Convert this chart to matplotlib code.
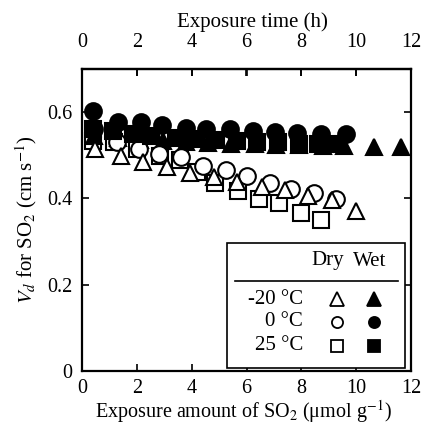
import matplotlib
matplotlib.use("Agg")
import matplotlib.pyplot as plt
from matplotlib.patches import Rectangle

plt.rcParams['font.family'] = ['Liberation Serif', 'DejaVu Serif']
plt.rcParams['mathtext.fontset'] = 'stix'

# ---- data (x: exposure amount of SO2, umol/g ; y: Vd, cm/s) ----
dry_m20_x = [0.47, 1.42, 2.22, 3.10, 3.93, 4.80, 5.67, 6.55, 7.42, 8.25, 9.13, 10.0]
dry_m20_y = [0.514, 0.498, 0.484, 0.474, 0.460, 0.449, 0.437, 0.426, 0.419, 0.405, 0.396, 0.372]

dry_0_x = [0.44, 1.28, 2.07, 2.80, 3.62, 4.41, 5.24, 6.02, 6.84, 7.62, 8.47, 9.26]
dry_0_y = [0.560, 0.530, 0.514, 0.504, 0.495, 0.475, 0.465, 0.452, 0.436, 0.423, 0.413, 0.398]

dry_25_x = [0.40, 1.16, 1.99, 2.84, 3.56, 4.20, 4.84, 5.68, 6.47, 7.20, 7.99, 8.72]
dry_25_y = [0.533, 0.530, 0.514, 0.498, 0.490, 0.462, 0.436, 0.417, 0.398, 0.390, 0.367, 0.351]

wet_m20_x = [0.45, 1.30, 2.10, 2.95, 3.78, 4.60, 5.44, 6.30, 7.08, 7.93, 8.78, 9.56, 10.65, 11.65]
wet_m20_y = [0.545, 0.540, 0.535, 0.532, 0.530, 0.528, 0.526, 0.525, 0.524, 0.523, 0.522, 0.521, 0.520, 0.520]

wet_0_x = [0.39, 1.30, 2.15, 2.90, 3.78, 4.53, 5.38, 6.22, 7.05, 7.85, 8.70, 9.62]
wet_0_y = [0.603, 0.578, 0.576, 0.570, 0.564, 0.560, 0.560, 0.557, 0.553, 0.551, 0.549, 0.549]

wet_25_x = [0.40, 1.13, 1.86, 2.53, 3.44, 4.17, 4.90, 5.65, 6.40, 7.15, 7.90, 8.60, 9.20]
wet_25_y = [0.560, 0.557, 0.550, 0.545, 0.541, 0.538, 0.535, 0.532, 0.530, 0.530, 0.527, 0.525, 0.525]

legend_labels = ['-20 °C', '0 °C', '25 °C']
legend_markers = ['^', 'o', 's']
xticks = [0, 2, 4, 6, 8, 10, 12]
yticks = [0, 0.2, 0.4, 0.6]
ytick_labels = ['0', '0.2', '0.4', '0.6']

FS = 15
TFS = 14.5
fig = plt.figure(figsize=(4.28, 4.26), dpi=100)
ax = fig.add_axes([82/428, 1-371/426, 329/428, 302/426])

ms_main = 12
mew = 1.5
kw_open = dict(ls='none', mfc='white', mec='black', mew=mew, ms=ms_main)
kw_fill = dict(ls='none', mfc='black', mec='black', mew=mew, ms=ms_main)

# dry (open) first, then wet (filled)
ax.plot(dry_25_x, dry_25_y, marker='s', zorder=3, **{**kw_open, 'ms': 11})
ax.plot(dry_0_x, dry_0_y, marker='o', zorder=4, **kw_open)
ax.plot(dry_m20_x, dry_m20_y, marker='^', zorder=5, **kw_open)
ax.plot(wet_m20_x, wet_m20_y, marker='^', zorder=3, **kw_fill)
ax.plot(wet_25_x, wet_25_y, marker='s', zorder=4, **{**kw_fill, 'ms': 11})
ax.plot(wet_0_x, wet_0_y, marker='o', zorder=5, **kw_fill)

ax.set_xlim(0, 12)
ax.set_ylim(0, 0.7)
ax.set_xticks(xticks)
ax.set_xticklabels([str(t) for t in xticks])
ax.set_yticks(yticks)
ax.set_yticklabels(ytick_labels)
ax.tick_params(direction='in', length=5, width=1.2, labelsize=TFS,
               top=True, right=True, labeltop=False, labelbottom=True)
ax.tick_params(axis='x', pad=6)
ax.tick_params(axis='y', pad=7)
for s in ax.spines.values():
    s.set_linewidth(1.6)

# top axis (exposure time, h) shares the same 0-12 range
sec = ax.secondary_xaxis('top')
sec.set_xticks(xticks)
sec.set_xticklabels([str(t) for t in xticks])
sec.tick_params(direction='in', length=5, width=1.2, labelsize=TFS, pad=12)
sec.spines['top'].set_linewidth(1.6)

fig.text(243/428, 1 - 412/426, 'Exposure amount of SO$_2$ (μmol g$^{-1}$)',
         ha='center', va='center', fontsize=14.5)
ax.set_ylabel('$V_d$ for SO$_2$ (cm s$^{-1}$)', fontsize=FS, labelpad=6)
fig.text(252/428, 1 - 22/426, 'Exposure time (h)', ha='center', va='center',
         fontsize=FS)

# ---- custom legend box ----
T = ax.transAxes
def fx(px):
    return (px - 82) / 329
def fy(py):
    return (371 - py) / 302

ax.add_patch(Rectangle((fx(227), fy(368)), fx(405) - fx(227), fy(243) - fy(368),
                       transform=T, facecolor='white', edgecolor='black',
                       linewidth=1.2, zorder=10))
ax.plot([fx(235), fx(398)], [fy(281), fy(281)], transform=T, color='black',
        lw=1.2, zorder=11)
ax.text(fx(328), fy(261), 'Dry', transform=T, ha='center', va='center',
        fontsize=FS, zorder=11)
ax.text(fx(370), fy(261), 'Wet', transform=T, ha='center', va='center',
        fontsize=FS, zorder=11)
row_y = [299, 322, 346]
leg_ms = {'^': 9.5, 'o': 8, 's': 8.5}
for lab, mk, ry in zip(legend_labels, legend_markers, row_y):
    ax.text(fx(303), fy(ry), lab, transform=T, ha='right', va='center',
            fontsize=FS, zorder=11)
    ax.plot([fx(337)], [fy(ry)], transform=T, marker=mk, ls='none',
            mfc='white', mec='black', mew=1.3, ms=leg_ms[mk], zorder=11,
            clip_on=False)
    ax.plot([fx(374)], [fy(ry)], transform=T, marker=mk, ls='none',
            mfc='black', mec='black', mew=1.3, ms=leg_ms[mk], zorder=11,
            clip_on=False)

fig.savefig('out.png', dpi=100)
